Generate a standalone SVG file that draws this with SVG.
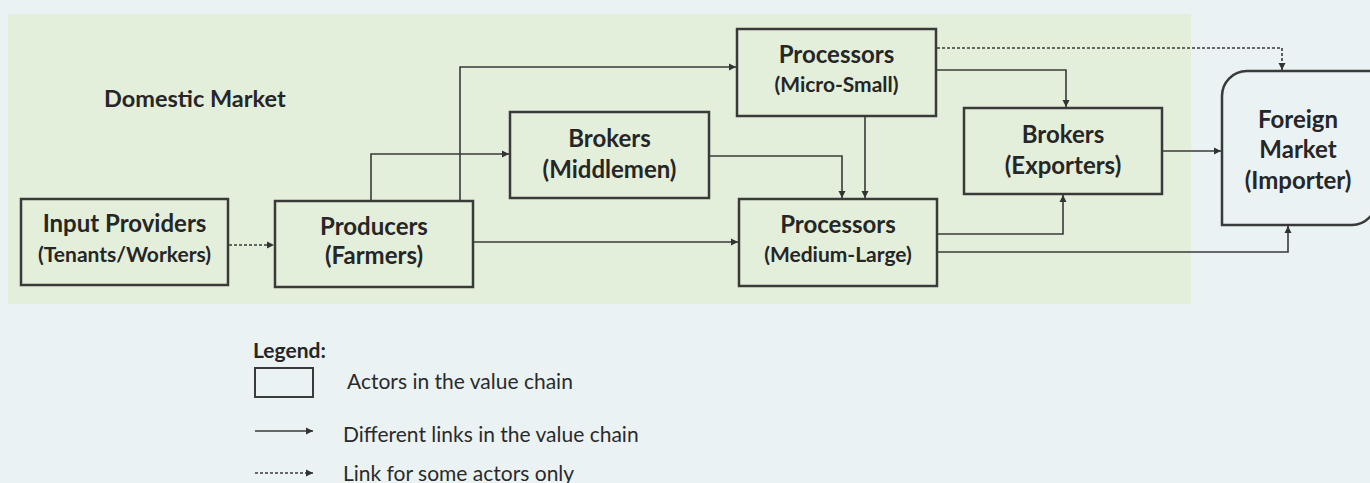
<svg xmlns="http://www.w3.org/2000/svg" width="1370" height="483" viewBox="0 0 1370 483">
<defs>
<marker id="ah" markerUnits="userSpaceOnUse" markerWidth="8" markerHeight="8" refX="7" refY="4" orient="auto">
<path d="M0,0.5 L7,4 L0,7.5 z" fill="#333"/>
</marker>
<style>
.box{fill:none;stroke:#3a3a3a;stroke-width:2.5}
.t{font-family:Lato,"Liberation Sans",sans-serif;font-weight:bold;fill:#262626;text-anchor:middle}
.tl{font-size:24px}
.ts{font-size:21px}
.ln{fill:none;stroke:#3a3a3a;stroke-width:1.6;marker-end:url(#ah)}
.dash{stroke-dasharray:3,2}
.lg{font-family:Lato,"Liberation Sans",sans-serif;font-size:21px;fill:#2a2a2a}
</style>
</defs>
<rect x="0" y="0" width="1370" height="483" fill="#eaf2f4"/>
<rect x="8" y="14" width="1183" height="290" fill="#e3efdb"/>
<text x="104" y="107" font-family="Lato,'Liberation Sans',sans-serif" font-weight="bold" font-size="23.5" fill="#262626">Domestic Market</text>

<g id="input-providers">
<rect class="box" x="21" y="199" width="207" height="86"/>
<text class="t tl" x="124.5" y="232">Input Providers</text>
<text class="t ts" x="124.5" y="262">(Tenants/Workers)</text>
</g>
<g id="producers">
<rect class="box" x="275" y="201" width="198" height="86"/>
<text class="t tl" x="374" y="235">Producers</text>
<text class="t tl" x="374" y="264">(Farmers)</text>
</g>
<g id="brokers-middlemen">
<rect class="box" x="510" y="112" width="199" height="86"/>
<text class="t tl" x="609.5" y="147">Brokers</text>
<text class="t tl" x="609.5" y="178">(Middlemen)</text>
</g>
<g id="processors-micro-small">
<rect class="box" x="737" y="29" width="199" height="87"/>
<text class="t tl" x="836.5" y="63">Processors</text>
<text class="t ts" x="836.5" y="92">(Micro-Small)</text>
</g>
<g id="processors-medium-large">
<rect class="box" x="739" y="199" width="198" height="87"/>
<text class="t tl" x="838" y="233">Processors</text>
<text class="t ts" x="838" y="262">(Medium-Large)</text>
</g>
<g id="brokers-exporters">
<rect class="box" x="964" y="108" width="198" height="86"/>
<text class="t tl" x="1063" y="143">Brokers</text>
<text class="t tl" x="1063" y="174">(Exporters)</text>
</g>
<g id="foreign-market">
<path d="M1380,71 H1247 A25,25 0 0 0 1222,96 V225 H1352 A24,24 0 0 0 1376,201" fill="#eaf2f4" stroke="#3a3a3a" stroke-width="2.5"/>
<text class="t tl" x="1298" y="128">Foreign</text>
<text class="t tl" x="1298" y="158">Market</text>
<text class="t tl" x="1298" y="189">(Importer)</text>
</g>

<g id="connectors">
<path class="ln dash" d="M229,245 H274"/>
<path class="ln" d="M371,200 V154 H509"/>
<path class="ln" d="M460,200 V67 H736"/>
<path class="ln" d="M474,242 H738"/>
<path class="ln" d="M710,156 H842 V198"/>
<path class="ln" d="M865,117 V198"/>
<path class="ln dash" d="M937,48 H1282 V70"/>
<path class="ln" d="M937,70 H1066 V107"/>
<path class="ln" d="M1163,151 H1221"/>
<path class="ln" d="M938,234 H1063 V195"/>
<path class="ln" d="M938,252 H1288 V226"/>
</g>

<g id="legend">
<text x="253" y="358" font-family="Lato,'Liberation Sans',sans-serif" font-weight="bold" font-size="21" fill="#262626">Legend:</text>
<rect x="255" y="368" width="58" height="29" fill="none" stroke="#3a3a3a" stroke-width="2"/>
<text class="lg" x="347" y="389">Actors in the value chain</text>
<path class="ln" d="M255,431 H313"/>
<text class="lg" x="343" y="442">Different links in the value chain</text>
<path class="ln dash" d="M255,473 H313"/>
<text class="lg" x="343" y="481">Link for some actors only</text>
</g>
</svg>
